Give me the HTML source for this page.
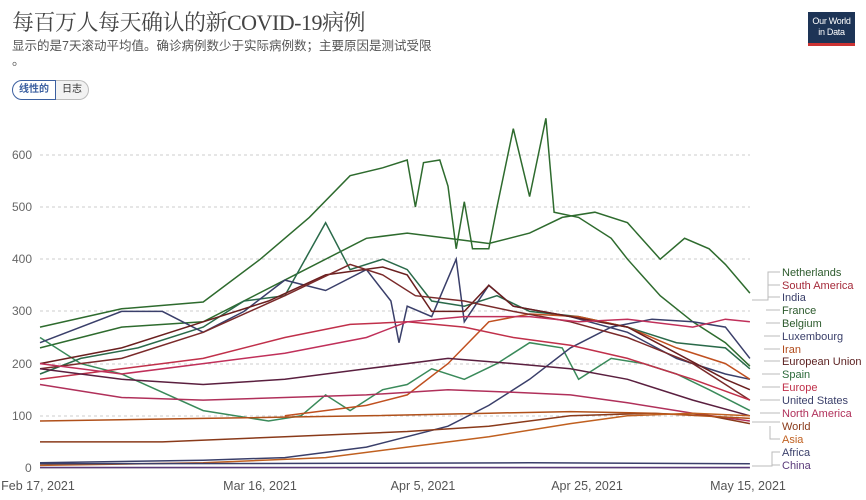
<!DOCTYPE html>
<html><head><meta charset="utf-8"><style>
body{margin:0;width:866px;height:500px;background:#fff;overflow:hidden;font-family:"Liberation Sans","Noto Sans CJK SC",sans-serif;position:relative}
.t{position:absolute;left:12px;top:6px;font-size:22px;color:#444;font-family:"Liberation Serif","Noto Serif CJK SC",serif;letter-spacing:-0.5px}
.s{position:absolute;left:12px;top:35px;font-size:12.5px;color:#555}
.d{position:absolute;left:12px;top:50px;font-size:13px;color:#555}
.btn{position:absolute;top:80px;height:18px;font-size:10px;line-height:18px;padding:0 6px;border:1px solid #bbb;color:#333}
.logo{position:absolute;left:808px;top:12px;width:47px;height:34px;background:#1d3456;color:#fff;font-size:9px;line-height:11px;text-align:center;padding-top:4px;box-sizing:border-box;border-bottom:3px solid #c33;white-space:nowrap;letter-spacing:-0.3px}
svg{position:absolute;left:0;top:0}
</style></head><body>
<div class="t">每百万人每天确认的新COVID-19病例</div>
<div class="s">显示的是7天滚动平均值。确诊病例数少于实际病例数；主要原因是测试受限</div>
<div class="d">。</div>
<div class="btn" style="left:12px;border-color:#3b5fa0;color:#3b5fa0;border-radius:10px 0 0 10px;font-weight:bold">线性的</div>
<div class="btn" style="left:56px;border-left:none;border-radius:0 10px 10px 0;background:#f2f2f2">日志</div>
<div class="logo">Our World<br>in Data</div>
<svg width="866" height="500" id="c" font-family="Liberation Sans, sans-serif">
<g stroke="#ccc" stroke-dasharray="3,3">
<line x1="40" x2="750" y1="155" y2="155"/><line x1="40" x2="750" y1="207" y2="207"/><line x1="40" x2="750" y1="259" y2="259"/><line x1="40" x2="750" y1="311" y2="311"/><line x1="40" x2="750" y1="364" y2="364"/><line x1="40" x2="750" y1="416" y2="416"/>
</g>
<line x1="40" x2="750" y1="468" y2="468" stroke="#999"/>
<g font-size="12" fill="#666">
<text x="12" y="159">600</text><text x="12" y="211">500</text><text x="12" y="263">400</text><text x="12" y="315">300</text><text x="12" y="368">200</text><text x="12" y="420">100</text><text x="25" y="472">0</text>
</g>
<g font-size="12.5" fill="#555" text-anchor="middle">
<text x="38" y="490">Feb 17, 2021</text><text x="260" y="490">Mar 16, 2021</text><text x="423" y="490">Apr 5, 2021</text><text x="587" y="490">Apr 25, 2021</text><text x="748" y="490">May 15, 2021</text>
</g>
<g id="lines" fill="none" stroke-width="1.5"></g>
<g font-size="11">
<text x="782" y="276" fill="#2c5a2c">Netherlands</text>
<text x="782" y="289" fill="#a52a3a">South America</text>
<text x="782" y="301" fill="#3a3f6a">India</text>
<text x="782" y="314" fill="#2c5a2c">France</text>
<text x="782" y="327" fill="#2c5a2c">Belgium</text>
<text x="782" y="340" fill="#3a3f6a">Luxembourg</text>
<text x="782" y="353" fill="#b04a1a">Iran</text>
<text x="782" y="365" fill="#5a1f1f">European Union</text>
<text x="782" y="378" fill="#2c6a3a">Spain</text>
<text x="782" y="391" fill="#c0304a">Europe</text>
<text x="782" y="404" fill="#3a3f6a">United States</text>
<text x="782" y="417" fill="#b0305a">North America</text>
<text x="782" y="430" fill="#8a3a1a">World</text>
<text x="782" y="443" fill="#c06020">Asia</text>
<text x="782" y="456" fill="#3a3f6a">Africa</text>
<text x="782" y="469" fill="#5a3a7a">China</text>
</g>
<g stroke="#bbb" fill="none">
<path d="M752,300 H768 V272 H780 M768,285 H780 M768,297H780 M766,310H780 M766,323H780 M764,336H780 M764,349H780 M764,361H780 M762,374H780 M762,387H780 M760,400H780 M760,413H780 M752,422H780 M770,426 V439 H780 M752,466 H772 V452 H780 M772,465H780"/>
</g>
</svg>
<script>
var X=d=>40+d*8.16,Y=v=>468-v*0.522;
var S=[
["#2e6b2e",[[0,270],[10,305],[20,318],[27,400],[33,480],[38,560],[42,575],[45,590],[46,500],[47,585],[49,590],[50,540],[51,420],[52,510],[53,420],[55,420],[56,500],[58,650],[60,520],[62,670],[63,490],[66,480],[70,440],[72,400],[76,330],[80,280],[84,240],[87,195]]],
["#2e6b2e",[[0,230],[10,270],[20,280],[30,360],[40,440],[45,450],[50,440],[55,430],[60,450],[64,480],[68,490],[72,470],[76,400],[79,440],[82,420],[84,390],[87,335]]],
["#3a8a5a",[[0,250],[5,200],[10,180],[20,110],[28,90],[32,100],[35,140],[38,110],[42,150],[45,160],[48,190],[52,170],[56,200],[60,240],[64,230],[66,170],[70,210],[74,200],[78,180],[82,150],[87,110]]],
["#2a6a4a",[[0,180],[5,210],[12,230],[20,270],[25,320],[30,330],[35,470],[38,380],[42,400],[45,380],[48,320],[52,310],[56,330],[60,300],[66,290],[72,270],[78,240],[84,230],[87,190]]],
["#3a3f6a",[[0,10],[20,15],[30,20],[40,40],[50,80],[55,120],[60,170],[65,230],[70,270],[75,285],[80,280],[84,270],[87,210]]],
["#3a3f6a",[[0,240],[10,300],[15,300],[20,260],[25,300],[30,360],[35,340],[40,380],[43,320],[44,240],[45,310],[48,290],[51,400],[52,280],[55,350],[58,310],[65,290],[72,260],[78,210],[84,180],[87,170]]],
["#c05020",[[30,100],[40,120],[45,140],[50,200],[55,280],[60,295],[66,290],[72,270],[78,230],[84,200],[87,170]]],
["#6a1f1f",[[0,200],[10,230],[20,280],[28,320],[35,370],[42,385],[45,370],[48,300],[52,300],[55,350],[58,310],[65,290],[72,270],[78,220],[84,170],[87,150]]],
["#7a2a2a",[[0,190],[10,210],[20,260],[30,330],[38,390],[42,370],[46,330],[52,320],[58,300],[65,280],[72,250],[80,200],[87,130]]],
["#c0304a",[[0,170],[10,190],[20,210],[30,250],[38,275],[45,280],[52,270],[58,250],[65,235],[72,210],[80,170],[87,130]]],
["#b0305a",[[0,160],[10,135],[20,130],[30,135],[40,140],[50,150],[58,145],[65,140],[72,125],[80,105],[87,90]]],
["#c0305a",[[0,200],[10,180],[20,200],[30,220],[40,250],[45,280],[52,290],[60,290],[66,280],[72,285],[80,270],[84,285],[87,280]]],
["#5a1f3f",[[0,190],[10,170],[20,160],[30,170],[40,190],[50,210],[58,200],[65,190],[72,170],[80,130],[87,100]]],
["#8a3a1a",[[0,50],[15,50],[30,60],[45,70],[55,80],[65,100],[75,105],[82,100],[87,85]]],
["#b0501a",[[0,90],[20,95],[40,100],[55,105],[65,108],[75,105],[87,95]]],
["#c06020",[[0,5],[20,10],[35,20],[45,40],[55,60],[65,85],[72,100],[80,105],[87,100]]],
["#3a3f6a",[[0,8],[40,9],[60,10],[87,8]]],
["#5a3a7a",[[0,1],[87,1]]]
];
var g=document.getElementById("lines"),h="";
S.forEach(s=>{h+='<path stroke="'+s[0]+'" d="M'+s[1].map(p=>X(p[0]).toFixed(1)+","+Y(p[1]).toFixed(1)).join(" L")+'"/>';});
g.innerHTML=h;
</script>
</body></html>
